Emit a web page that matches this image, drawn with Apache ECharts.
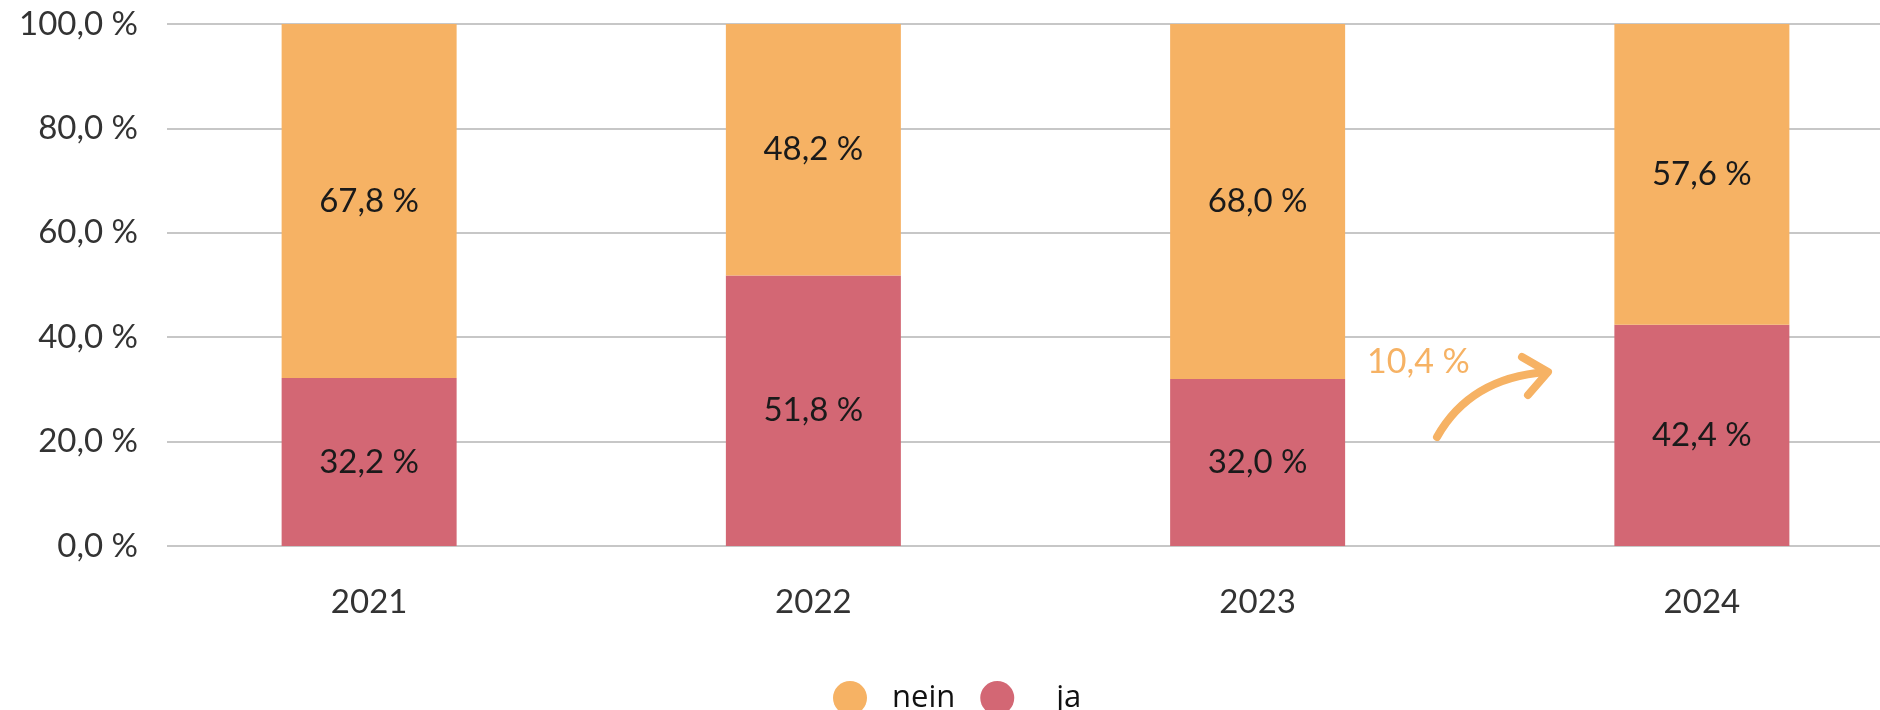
<!DOCTYPE html>
<html>
<head>
<meta charset="utf-8">
<script src="https://cdn.jsdelivr.net/npm/echarts@6/dist/echarts.min.js"></script>
<style>
  html, body { margin: 0; padding: 0; background: #fff; }
  #main { width: 1880px; height: 710px; }
</style>
</head>
<body>
<div id="main"></div>
<script>
var years = ['2021', '2022', '2023', '2024'];
var ja = [32.2, 51.8, 32.0, 42.4];
var nein = [67.8, 48.2, 68.0, 57.6];
var yTicks = [0, 20, 40, 60, 80, 100];
var changeLabel = '10,4 %';

var orange = '#F6B264';
var red = '#D36774';

function pct(v) {
  return v.toFixed(1).replace('.', ',') + ' %';
}

var chart = echarts.init(document.getElementById('main'));

var labelStyle = {
  show: true,
  position: 'inside',
  color: '#1a1a1a',
  fontFamily: 'Lato',
  fontSize: 33,
  formatter: function (p) { return pct(p.value); }
};

var option = {
  animation: false,
  // grid 0 only carries the gridlines and y labels, grid 1 holds the bars
  // (its last band runs past the right edge, as in the original)
  grid: [
    { left: 167, right: 0, top: 24, bottom: 164, outerBoundsMode: 'none' },
    { left: 147, width: 1777, top: 24, bottom: 164, outerBoundsMode: 'none' }
  ],
  legend: {
    data: ['nein', 'ja'],
    left: 828,
    top: 676,
    icon: 'circle',
    itemWidth: 34,
    itemHeight: 34,
    itemGap: 25,
    formatter: function (name) {
      return name === 'ja' ? '{wide|' + name + '}' : name;
    },
    textStyle: {
      fontFamily: 'Open Sans', fontSize: 31, color: '#111', padding: [0, 0, 0, 20],
      rich: { wide: { fontFamily: 'Open Sans', fontSize: 31, color: '#111', padding: [0, 0, 0, 17] } }
    }
  },
  xAxis: [
    {
      gridIndex: 0,
      type: 'category',
      data: years,
      axisLine: { show: false },
      axisTick: { show: false },
      axisLabel: { show: false }
    },
    {
      gridIndex: 1,
      type: 'category',
      data: years,
      axisLine: { show: false },
      axisTick: { show: false },
      axisLabel: { color: '#333', fontFamily: 'Lato', fontSize: 33, margin: 40 }
    }
  ],
  yAxis: [
    {
      gridIndex: 0,
      type: 'value',
      min: yTicks[0],
      max: yTicks[yTicks.length - 1],
      interval: 20,
      axisLabel: {
        color: '#333',
        fontFamily: 'Lato',
        fontSize: 33,
        margin: 29,
        formatter: function (v) { return pct(v); }
      },
      splitLine: { lineStyle: { color: '#b5b5b5', width: 1.5 } }
    },
    {
      gridIndex: 1,
      type: 'value',
      min: 0,
      max: 100,
      show: false
    }
  ],
  series: [
    {
      name: 'ja',
      type: 'bar',
      stack: 'total',
      xAxisIndex: 1,
      yAxisIndex: 1,
      barWidth: 175,
      data: ja,
      itemStyle: { color: red },
      label: labelStyle
    },
    {
      name: 'nein',
      type: 'bar',
      stack: 'total',
      xAxisIndex: 1,
      yAxisIndex: 1,
      barWidth: 175,
      data: nein,
      itemStyle: { color: orange },
      label: labelStyle
    }
  ],
  graphic: [
    {
      type: 'text',
      left: 1367,
      top: 345,
      style: { text: changeLabel, fill: orange, font: '34px Lato' }
    },
    {
      type: 'bezierCurve',
      shape: { x1: 1437, y1: 437, cpx1: 1470, cpy1: 378, x2: 1546, y2: 372 },
      style: { stroke: orange, lineWidth: 8, fill: null, lineCap: 'round' }
    },
    {
      type: 'polyline',
      shape: { points: [[1522, 357], [1548, 372], [1528, 395]] },
      style: { stroke: orange, lineWidth: 8, fill: null, lineCap: 'round', lineJoin: 'round' }
    }
  ]
};

chart.setOption(option);
</script>
</body>
</html>
